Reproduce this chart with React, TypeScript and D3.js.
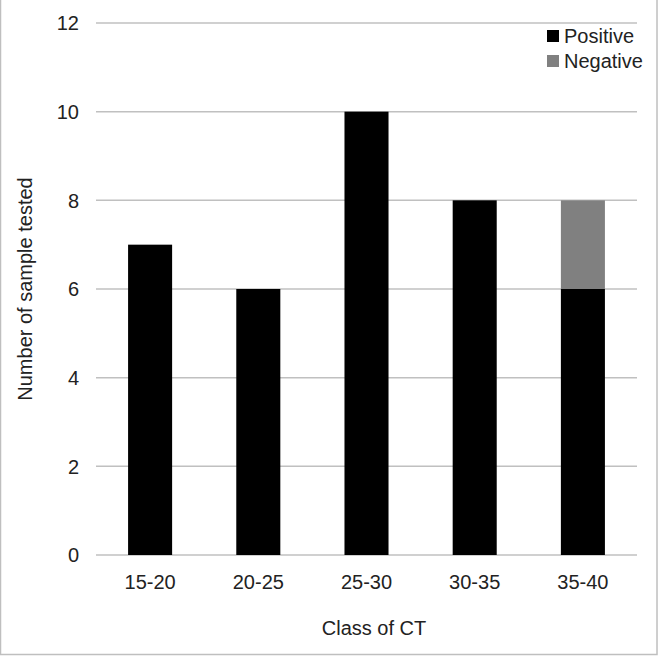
import React from "react";
import * as d3 from "d3";

const categories = ["15-20", "20-25", "25-30", "30-35", "35-40"];
const positive = [7, 6, 10, 8, 6];
const negative = [0, 0, 0, 0, 2];
const yTicks = [0, 2, 4, 6, 8, 10, 12];
const seriesNames = ["Positive", "Negative"];
const seriesColors = ["#000000", "#808080"];

export default function App() {
  const W = 659, H = 656;
  const x = d3.scaleBand().domain(categories).range([96, 637]).paddingInner(0.593).paddingOuter(0.2965);
  const y = d3.scaleLinear().domain([0, 12]).range([555, 23]);
  const font = "'Liberation Sans', Arial, Helvetica, sans-serif";
  const rows = categories.map((c, i) => ({ c, p: positive[i], n: negative[i] }));
  const stack = d3.stack<any>().keys(["p", "n"])(rows as any);
  const fs = 20;
  return (
    <svg width={W} height={H} style={{ position: "absolute", left: 0, top: 0 }} fontFamily={font}>
      <rect x={0} y={0} width={W} height={H} fill="#fff" />
      <rect x={0.5} y={-1} width={656.5} height={655.5} fill="none" stroke="#bfbfbf" strokeWidth={1.5} />
      {yTicks.map((t) => (
        <g key={t}>
          <line x1={96} x2={637} y1={y(t)} y2={y(t)} stroke="#c0c0c0" strokeWidth={1.5} />
          <text x={79} y={y(t)} dy="0.36em" textAnchor="end" fontSize={fs} fill="#222">{t}</text>
        </g>
      ))}
      {stack.map((s, si) =>
        s.map((d, i) =>
          d[1] - d[0] > 0 ? (
            <rect key={si + "-" + i} x={x(categories[i])} width={x.bandwidth()} y={y(d[1])} height={y(d[0]) - y(d[1])} fill={seriesColors[si]} />
          ) : null
        )
      )}
      {categories.map((c) => (
        <text key={c} x={(x(c) as number) + x.bandwidth() / 2} y={581.5} dy="0.36em" textAnchor="middle" fontSize={fs} fill="#222">{c}</text>
      ))}
      <text x={374} y={628} dy="0.36em" textAnchor="middle" fontSize={fs} fill="#222">Class of CT</text>
      <text transform={`translate(25,289) rotate(-90)`} dy="0.36em" textAnchor="middle" fontSize={fs} fill="#222">Number of sample tested</text>
      {seriesNames.map((n, i) => (
        <g key={n} transform={`translate(547,${36 + i * 25})`}>
          <rect x={0} y={-6} width={12} height={12} fill={seriesColors[i]} />
          <text x={17} y={0} dy="0.36em" fontSize={fs} fill="#222">{n}</text>
        </g>
      ))}
    </svg>
  );
}
